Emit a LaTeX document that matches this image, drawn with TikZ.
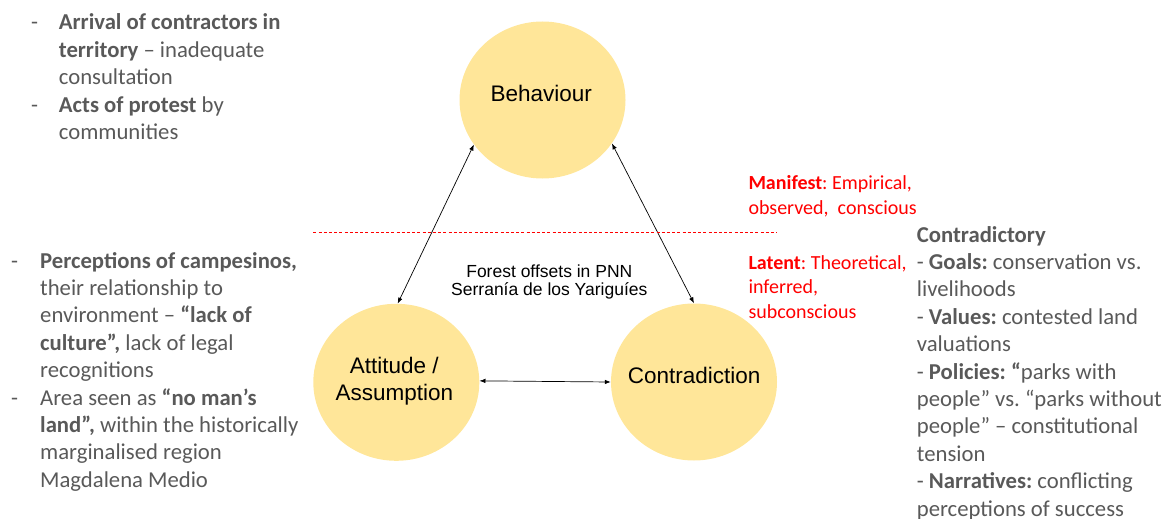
\documentclass[tikz,border=0pt]{standalone}
\usepackage{fontspec}
\setmainfont{Carlito}
\newfontfamily\arialf{Liberation Sans}
\usetikzlibrary{shapes.geometric,arrows.meta}
\definecolor{circfill}{HTML}{FFE699}
\definecolor{txtgray}{HTML}{595959}
\definecolor{redtxt}{HTML}{FF0000}
\frenchspacing
\newcommand\mylines[1]{\begin{tabular}[t]{@{}l@{}}#1\end{tabular}}
\newcommand\mylinesc[1]{\begin{tabular}[t]{@{}c@{}}#1\end{tabular}}
\begin{document}
\begin{tikzpicture}[x=1pt,y=-1pt,
 circ/.style={ellipse, fill=circfill, draw=none, minimum width=166pt, minimum height=157pt, inner sep=0pt},
 circlab/.style={font=\arialf\fontsize{22.5}{27.4}\selectfont, text=black, inner sep=0pt, anchor=base},
 midlab/.style={font=\arialf\fontsize{17.5}{18}\selectfont, text=black, inner sep=0pt, anchor=base},
 sidetxt/.style={font=\fontsize{22.7}{27.4}\selectfont, text=txtgray, inner sep=0pt, anchor=base west},
 redtext/.style={font=\fontsize{20}{24.5}\selectfont, text=redtxt, inner sep=0pt, anchor=base west},
 link/.style={{Latex[length=6pt,width=4.5pt]}-{Latex[length=6pt,width=4.5pt]}, line width=0.7pt, black},
 splitline/.style={redtxt, line width=0.75pt, dash pattern=on 3pt off 2.2pt},
]
\useasboundingbox (0,0) rectangle (1175,519);

% circles
\node[circ] (beh) at (542.5,100) {};
\node[circ] (att) at (396.3,382.3) {};
\node[circ] (con) at (694,382) {};

% circle labels
\node[circlab] (behlab) at (541.3,101.7) {Behaviour};
\node[circlab] (attlab) at (394.3,373.3) {\mylinesc{Attitude /\\Assumption}};
\node[circlab] (conlab) at (694.2,383.3) {Contradiction};

% centre label
\node[midlab] (forest) at (549.3,277.5) {\mylinesc{Forest offsets in PNN\\Serranía de los Yariguíes}};

% connectors
\draw[link] (beh.213) -- (att.89);
\draw[link] (beh.328) -- (con.90);
\draw[link] (att.1.6) -- (con.180);

% dashed divider
\coordinate (dl1) at (313.3,232.3);
\coordinate (dl2) at (777.3,232.3);
\draw[splitline] (dl1) -- (dl2);

% top-left text
\node[sidetxt] (tldash1) at (31,30) {-};
\node[sidetxt] (tldash2) at (31,112.4) {-};
\node[sidetxt] (tltext) at (58.7,30) {\mylines{\textbf{Arrival of contractors in}\\
\textbf{territory} – inadequate\\
consultation\\
\textbf{Acts of protest} by\\
communities}};

% left text
\node[sidetxt] (ldash1) at (11,268) {-};
\node[sidetxt] (ldash2) at (11,405) {-};
\node[sidetxt] (ltext) at (40,268) {\mylines{\textbf{Perceptions of campesinos,}\\
their relationship to\\
environment – \textbf{“lack of}\\
\textbf{culture”,} lack of legal\\
recognitions\\
Area seen as \textbf{“no man’s}\\
\textbf{land”,} within the historically\\
marginalised region\\
Magdalena Medio}};

% red labels
\node[redtext] (manifest) at (748.3,189.5) {\mylines{\textbf{Manifest}: Empirical,\\
observed, \ conscious}};
\node[redtext] (latent) at (748.3,269.3) {\mylines{\textbf{Latent}: Theoretical,\\
inferred,\\
subconscious}};

% right text
\node[sidetxt] (rtext) at (916.7,242) {\mylines{\textbf{Contradictory}\\
- \textbf{Goals:} conservation vs.\\
livelihoods\\
- \textbf{Values:} contested land\\
valuations\\
- \textbf{Policies: “}parks with\\
people” vs. “parks without\\
people” – constitutional\\
tension\\
- \textbf{Narratives:} conflicting\\
perceptions of success}};
\end{tikzpicture}
\end{document}
